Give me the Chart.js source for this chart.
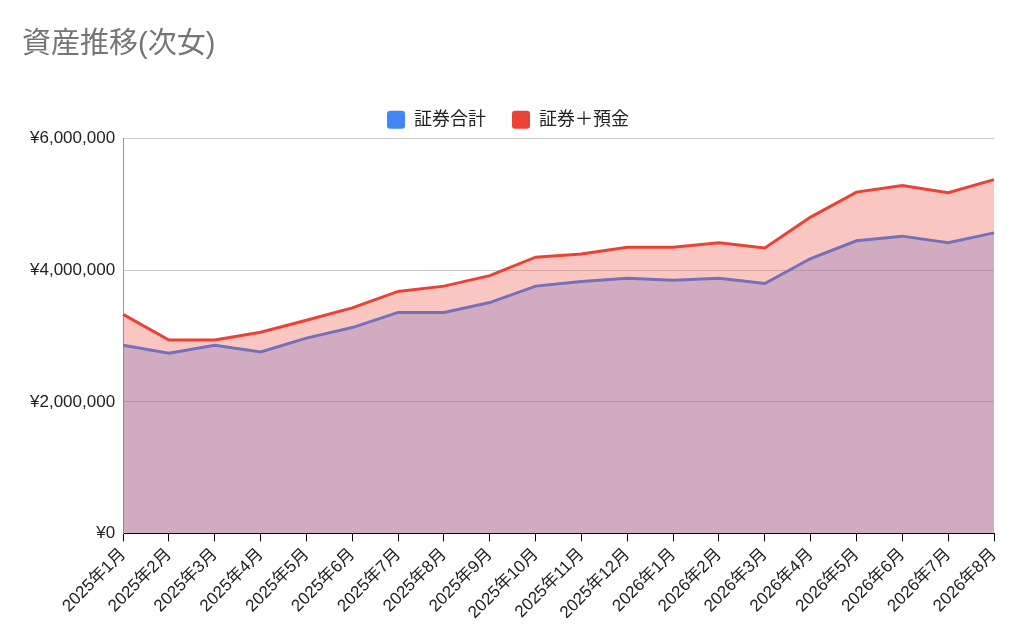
<!DOCTYPE html>
<html lang="ja">
<head>
<meta charset="UTF-8">
<title>資産推移(次女)</title>
<script src="https://cdn.jsdelivr.net/npm/chart.js"></script>
<style>
  html, body { margin: 0; padding: 0; background: #fff; }
  #wrap { width: 1024px; height: 632px; }
</style>
</head>
<body>
<div id="wrap"><canvas id="myChart"></canvas></div>
<script>
const months = ['2025年1月','2025年2月','2025年3月','2025年4月','2025年5月','2025年6月','2025年7月','2025年8月','2025年9月','2025年10月','2025年11月','2025年12月','2026年1月','2026年2月','2026年3月','2026年4月','2026年5月','2026年6月','2026年7月','2026年8月'];
const securities = [2860000,2740000,2860000,2760000,2970000,3130000,3360000,3360000,3510000,3760000,3830000,3880000,3850000,3880000,3800000,4180000,4450000,4520000,4420000,4570000];
const withDeposits = [3330000,2940000,2940000,3060000,3240000,3430000,3680000,3760000,3920000,4200000,4250000,4350000,4350000,4420000,4340000,4810000,5190000,5290000,5180000,5380000];

const font = "'Liberation Sans', 'Noto Sans CJK JP', sans-serif";

new Chart(document.getElementById('myChart'), {
  type: 'line',
  data: {
    labels: months,
    datasets: [
      {
        label: '証券合計',
        data: securities,
        borderColor: '#4285f4',
        backgroundColor: 'rgba(66,133,244,0.3)',
        fill: 'origin',
        borderWidth: 3,
        pointRadius: 0,
        order: 1
      },
      {
        label: '証券＋預金',
        data: withDeposits,
        borderColor: '#ea4335',
        backgroundColor: 'rgba(234,67,53,0.3)',
        fill: 'origin',
        borderWidth: 3,
        pointRadius: 0,
        order: 0
      }
    ]
  },
  options: {
    responsive: true,
    maintainAspectRatio: false,
    animation: false,
    layout: { padding: { left: 22, right: 30, top: 10, bottom: 6 } },
    plugins: {
      title: {
        display: true,
        text: '資産推移(次女)',
        align: 'start',
        color: '#757575',
        font: { family: font, size: 29, weight: 'normal' },
        padding: { top: 18, bottom: 22 }
      },
      legend: {
        labels: {
          boxWidth: 18,
          boxHeight: 18,
          color: '#222',
          font: { family: font, size: 18 },
          padding: 26,
          generateLabels: chart => chart.data.datasets.map((ds, i) => ({
            text: ds.label,
            fillStyle: ds.borderColor,
            strokeStyle: ds.borderColor,
            lineWidth: 0,
            borderRadius: 3,
            fontColor: '#222',
            datasetIndex: i
          }))
        }
      },
      tooltip: { enabled: false }
    },
    scales: {
      x: {
        offset: false,
        grid: { drawOnChartArea: false, color: '#000', tickLength: 8 },
        border: { color: '#000', width: 1 },
        ticks: { minRotation: 45, maxRotation: 45, color: '#222', font: { family: font, size: 17 } }
      },
      y: {
        min: 0,
        max: 6000000,
        grid: { color: '#cccccc', drawTicks: false },
        border: { color: '#999' },
        ticks: {
          stepSize: 2000000,
          padding: 8,
          color: '#222',
          font: { family: font, size: 17 },
          callback: v => '¥' + v.toLocaleString('en-US')
        }
      }
    }
  }
});
</script>
</body>
</html>
